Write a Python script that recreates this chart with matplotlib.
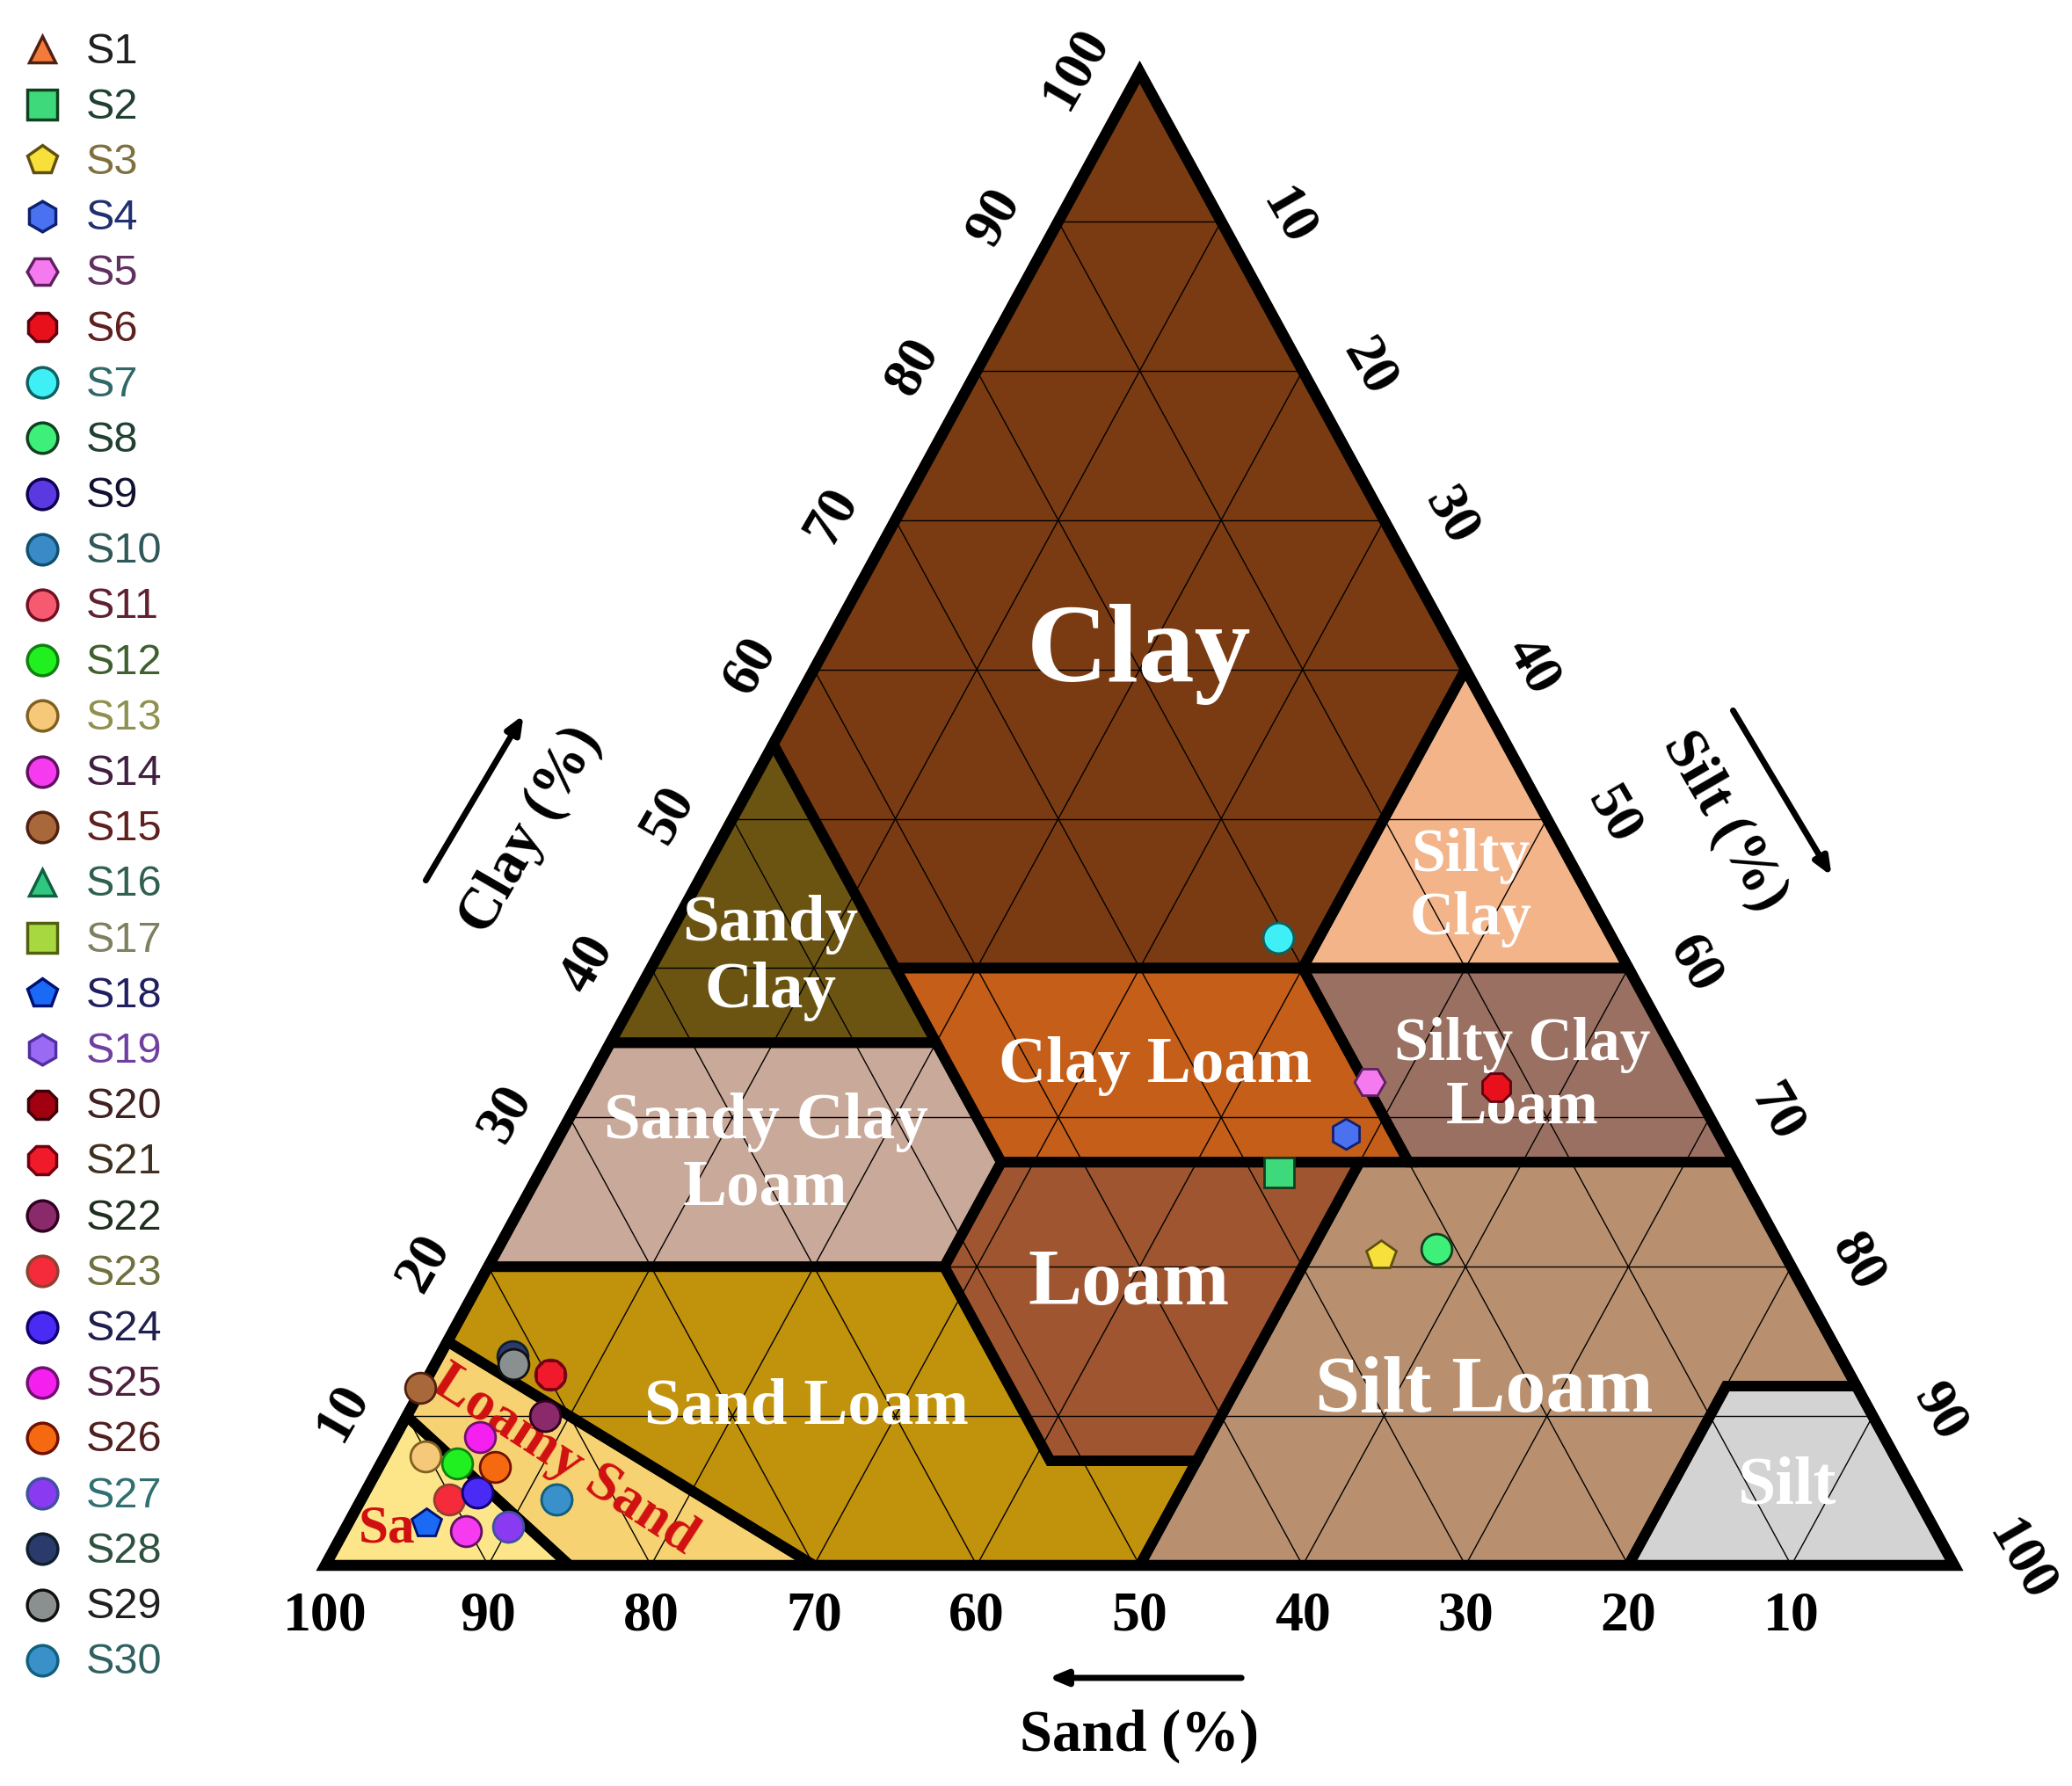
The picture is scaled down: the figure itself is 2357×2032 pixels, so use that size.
import numpy as np
import matplotlib.pyplot as plt
from matplotlib.patches import Polygon

# triangle corners in image pixels (sand 100 left, silt 100 right, clay 100 top)
X0, X1, Y0, YT = 370, 2223, 1782, 83

def tern(sand, clay):
    sand = np.asarray(sand, float)
    clay = np.asarray(clay, float)
    silt = 100 - sand - clay
    xf = silt + clay / 2
    return X0 + xf / 100 * (X1 - X0), Y0 - clay / 100 * (Y0 - YT)

# texture classes: vertices as (sand, clay)
classes = {
    "Clay": [(0, 100), (45, 55), (45, 40), (20, 40), (0, 60)],
    "Sandy Clay": [(45, 55), (65, 35), (45, 35)],
    "Silty Clay": [(0, 60), (20, 40), (0, 40)],
    "Clay Loam": [(20, 40), (45, 40), (45, 27), (20, 27)],
    "Silty Clay Loam": [(0, 40), (20, 40), (20, 27), (0, 27)],
    "Sandy Clay Loam": [(45, 35), (65, 35), (80, 20), (52, 20), (45, 27)],
    "Loam": [(45, 27), (52, 20), (52, 7), (43, 7), (23, 27)],
    "Silt Loam": [(23, 27), (0, 27), (0, 12), (8, 12), (20, 0), (50, 0), (43, 7)],
    "Silt": [(0, 12), (8, 12), (20, 0), (0, 0)],
    "Sand Loam": [(80, 20), (52, 20), (52, 7), (43, 7), (50, 0), (70, 0), (85, 15)],
    "Loamy Sand": [(85, 15), (90, 10), (85, 0), (70, 0)],
    "Sand": [(100, 0), (90, 10), (85, 0)],
}
class_colors = {
    "Clay": "#7a3b12", "Sandy Clay": "#6b5412", "Silty Clay": "#f3b48a",
    "Clay Loam": "#c45e18", "Silty Clay Loam": "#9a7062", "Sandy Clay Loam": "#c9a999",
    "Loam": "#9e5530", "Silt Loam": "#b8906f", "Silt": "#d3d3d3",
    "Sand Loam": "#c1920c", "Loamy Sand": "#f7d272", "Sand": "#fde68a",
}

# samples
names = ["S%d" % i for i in range(1, 31)]
sand = [90.2, 28.3, 24.8, 22.9, 19.7, 12.1, 20.5, 21.2, 88.2, 83.6,
        79.8, 88.5, 90.2, 90.2, 88.2, 88.5, 90.2, 92.4, 87.5, 81.5,
        79.8, 81.5, 90.2, 88.2, 86.2, 86.3, 87.5, 81.5, 81.7, 83.6]
clay = [4.4, 26.3, 20.8, 28.9, 32.4, 32.0, 42.0, 21.2, 4.9, 4.4,
        12.8, 6.8, 7.3, 2.3, 11.9, 6.8, 7.3, 2.8, 2.6, 10.0,
        12.8, 10.0, 4.4, 4.9, 8.6, 6.6, 2.6, 14.0, 13.5, 4.4]
markers = ["^", "s", "p", "h", "H", "8", "o", "o", "o", "o",
           "o", "o", "o", "o", "o", "^", "s", "p", "h", "8",
           "8", "o", "o", "o", "o", "o", "o", "o", "o", "o"]
face = ["#f47a3c", "#3ed97a", "#f8e03a", "#4a72f0", "#f57af0", "#e8101a", "#3ef0f5", "#3ef07a",
        "#5a3ae0", "#3a8ac8", "#f55a70", "#20f020", "#f5c87a", "#f53af0", "#a8683a", "#30c880",
        "#a8d840", "#1a6af5", "#9a6af5", "#a00010", "#f01a2a", "#8a2a6a", "#f52a3a", "#4a2af5",
        "#f520f0", "#f56a10", "#8a3af0", "#2a3a6a", "#8a9090", "#3a90c8"]
edge = ["#502010", "#104020", "#605010", "#102070", "#602060", "#600010", "#106060", "#104020",
        "#100050", "#105070", "#701020", "#108010", "#806020", "#601060", "#502010", "#106040",
        "#506010", "#001070", "#5030a0", "#400008", "#700010", "#300020", "#904030", "#100070",
        "#701070", "#701000", "#4050a0", "#102030", "#101010", "#106080"]
text_col = ["#202020", "#204030", "#807040", "#203070", "#603060", "#602020", "#306868", "#204030",
            "#101030", "#305858", "#602030", "#406030", "#909050", "#402040", "#602020", "#306050",
            "#808060", "#202060", "#7040a0", "#402020", "#403020", "#203020", "#707040", "#202050",
            "#502040", "#502020", "#307070", "#305040", "#202020", "#306060"]
hidden = [0, 15, 16]  # samples covered by others in the plot
ticks = [10, 20, 30, 40, 50, 60, 70, 80, 90, 100]

fig = plt.figure(figsize=(23.57, 20.33), dpi=100)
ax = fig.add_axes([0, 0, 1, 1])
ax.set_xlim(0, 2357)
ax.set_ylim(2033, 0)
ax.axis("off")

for name, verts in classes.items():
    s, c = zip(*verts)
    x, y = tern(s, c)
    ax.add_patch(Polygon(np.column_stack([x, y]), closed=True, facecolor=class_colors[name],
                         edgecolor="none", zorder=1))

# grid
for v in range(10, 100, 10):
    for a, b in [((100 - v, v), (0, v)), ((v, 0), (v, 100 - v)), ((v, 0), (0, v))]:
        x, y = tern([a[0], b[0]], [a[1], b[1]])
        ax.plot(x, y, color="black", lw=1.0, zorder=2)

for name, verts in classes.items():
    s, c = zip(*verts)
    x, y = tern(s, c)
    ax.add_patch(Polygon(np.column_stack([x, y]), closed=True, facecolor="none",
                         edgecolor="black", lw=8.5, joinstyle="miter", zorder=3))
x, y = tern([100, 0, 0], [0, 0, 100])
ax.add_patch(Polygon(np.column_stack([x, y]), closed=True, facecolor="none",
                     edgecolor="black", lw=9, joinstyle="miter", zorder=3))

serif = "Liberation Serif"
for t in ticks:
    x, y = tern(t, 0)
    ax.text(x, y + 58, str(t), ha="center", va="center", fontsize=46, fontweight="bold",
            family=serif)
    x, y = tern(100 - t, t)
    ax.text(x - 72, y - 5, str(t), ha="center", va="center", fontsize=46, fontweight="bold",
            family=serif, rotation=60)
    x, y = tern(0, 100 - t)
    ax.text(x + 75, y - 5, str(t), ha="center", va="center", fontsize=46, fontweight="bold",
            family=serif, rotation=-60)

ax.text(1296, 1975, "Sand (%)", ha="center", va="center", fontsize=48, fontweight="bold", family=serif)
ax.annotate("", xy=(1190, 1910), xytext=(1415, 1910),
            arrowprops=dict(arrowstyle="-|>,head_length=1.2,head_width=0.5", lw=5, color="black"))
ax.text(604, 945, "Clay (%)", ha="center", va="center", fontsize=48, fontweight="bold",
        family=serif, rotation=60)
ax.annotate("", xy=(597, 812), xytext=(483, 1005),
            arrowprops=dict(arrowstyle="-|>,head_length=1.2,head_width=0.5", lw=5, color="black"))
ax.text(1962, 935, "Silt (%)", ha="center", va="center", fontsize=48, fontweight="bold",
        family=serif, rotation=-60)
ax.annotate("", xy=(2085, 1000), xytext=(1970, 807),
            arrowprops=dict(arrowstyle="-|>,head_length=1.2,head_width=0.5", lw=5, color="black"))

labels = [
    ("Clay", 1296, 745, 92), ("Sandy\nClay", 876, 1090, 54), ("Silty\nClay", 1673, 1010, 50),
    ("Clay Loam", 1314, 1213, 54), ("Silty Clay\nLoam", 1732, 1225, 50),
    ("Sandy Clay\nLoam", 871, 1315, 54), ("Loam", 1284, 1462, 66),
    ("Sand Loam", 917, 1602, 54), ("Silt Loam", 1688, 1584, 66), ("Silt", 2033, 1692, 56),
]
for txt, x, y, fs in labels:
    ax.text(x, y, txt, ha="center", va="center", fontsize=fs, fontweight="bold",
            family=serif, color="white", linespacing=1.15, zorder=4)
ax.text(642, 1662, "Loamy Sand", ha="center", va="center", fontsize=46, fontweight="bold",
        family=serif, color="#d01010", rotation=-33, zorder=4)
ax.text(440, 1740, "Sa", ha="center", va="center", fontsize=44, fontweight="bold",
        family=serif, color="#d01010", zorder=4)

for i in range(30):
    x, y = tern(sand[i], clay[i])
    z, ms = (4.5, 17) if i in hidden else (5, 25)
    ax.plot(x, y, marker=markers[i], ms=ms, mfc=face[i], mec=edge[i], mew=2, ls="none", zorder=z)
    ly = 57 + 63.2 * i
    ax.plot(48, ly, marker=markers[i], ms=25 if markers[i] != "^" else 21, mfc=face[i],
            mec=edge[i], mew=2.5, ls="none")
    ax.text(98, ly + 2, names[i], ha="left", va="center", fontsize=35,
            family="Liberation Sans", color=text_col[i])

fig.savefig("out.png", dpi=100)
